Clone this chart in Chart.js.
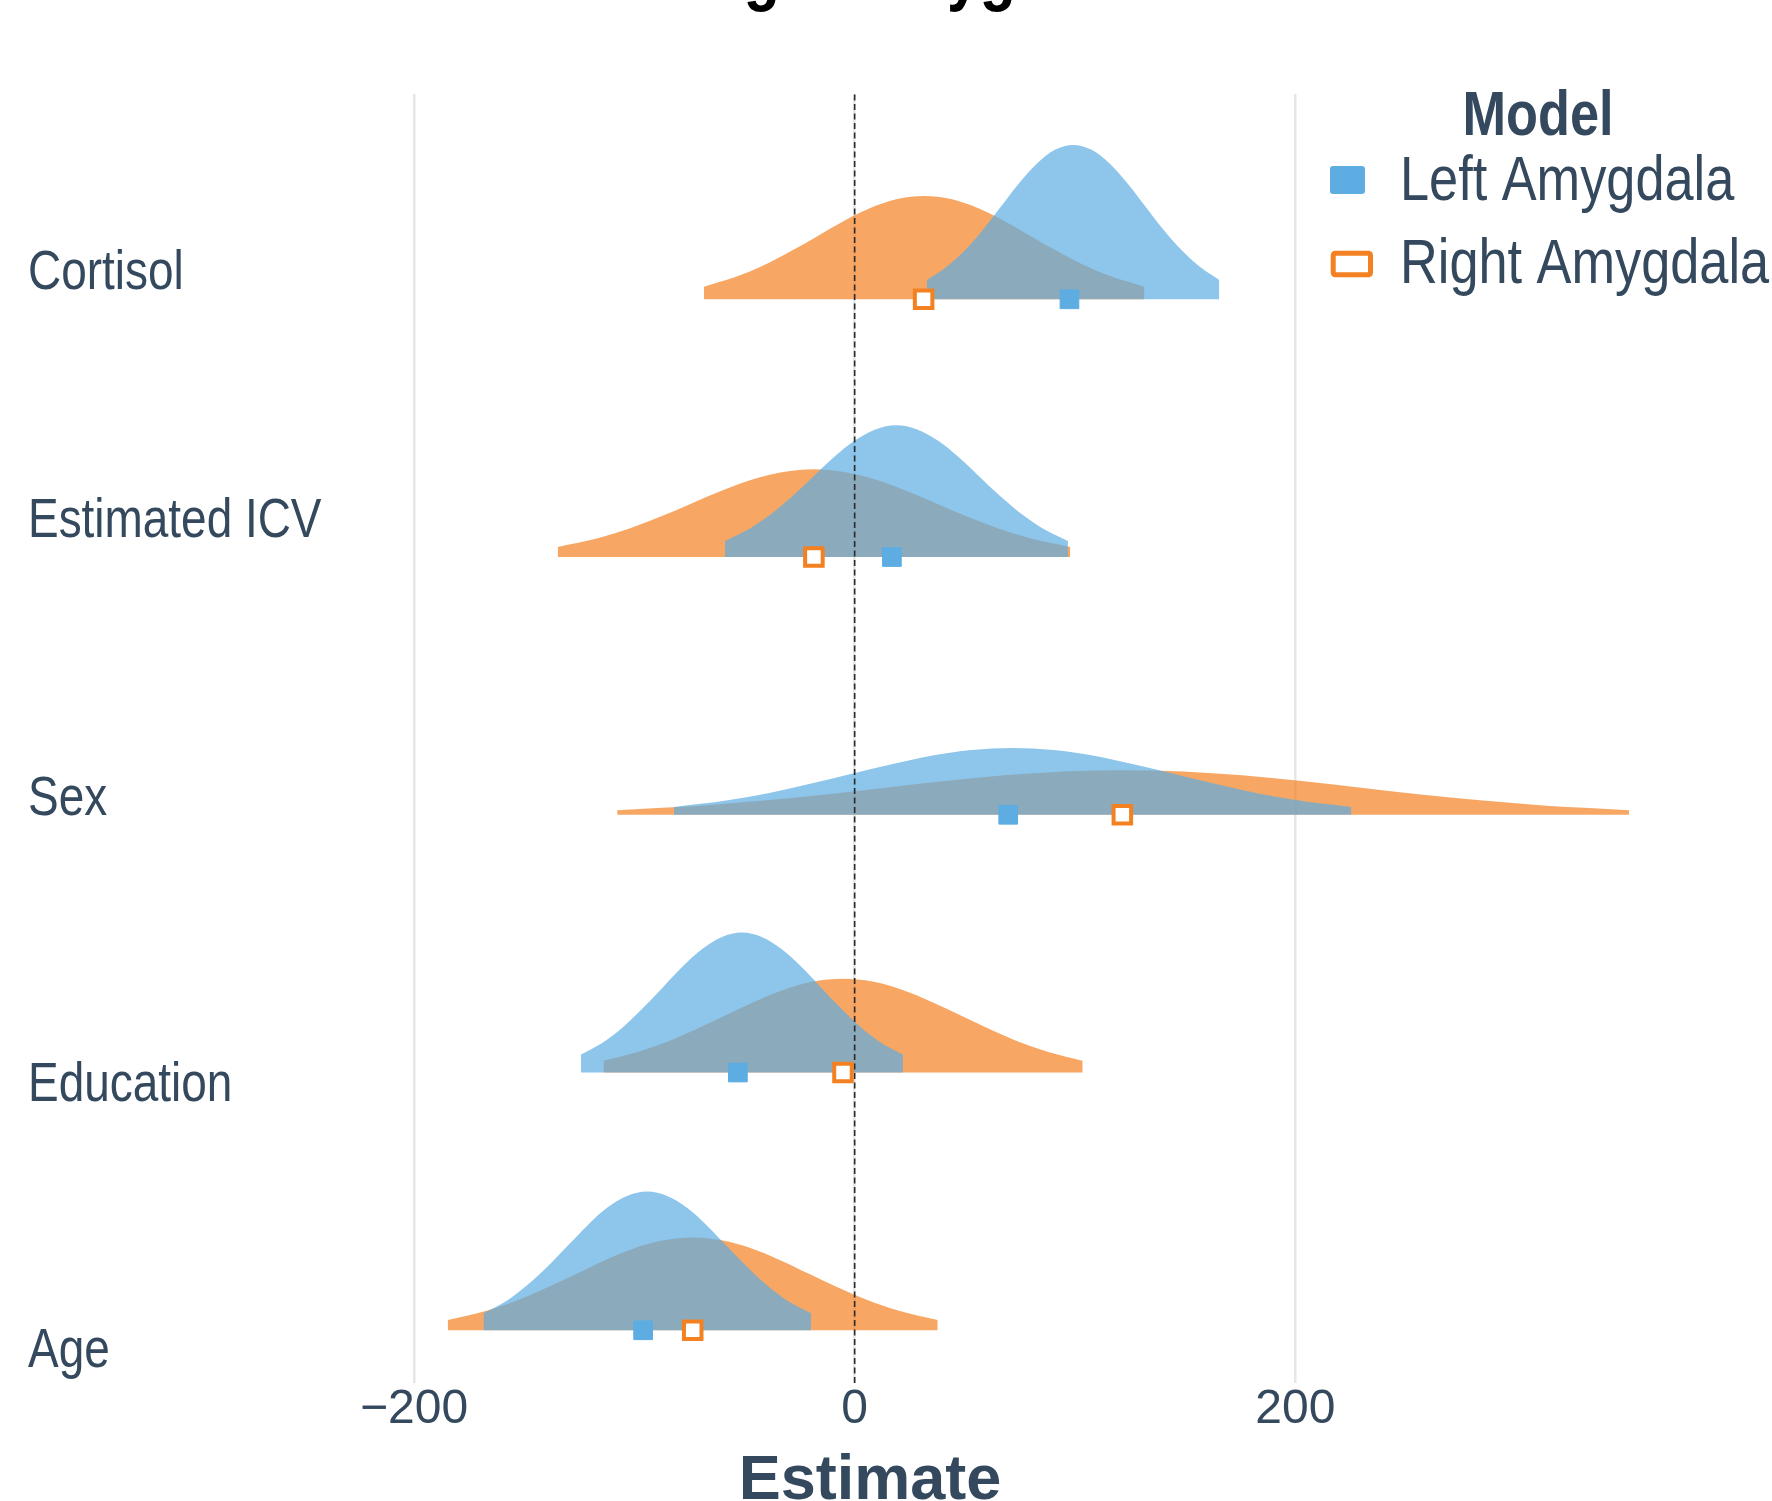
<!DOCTYPE html>
<html>
<head>
<meta charset="utf-8">
<script src="https://cdn.jsdelivr.net/npm/chart.js@4.4.1/dist/chart.umd.min.js"></script>
<style>
  html, body { margin: 0; padding: 0; background: #ffffff; }
  #wrap { width: 1772px; height: 1501px; position: relative; }
</style>
</head>
<body>
<div id="wrap"><canvas id="c" width="1772" height="1501"></canvas></div>
<script>
// Predictors, bottom row first (row index = ridge baseline on the y axis)
const categories = ['Age', 'Education', 'Sex', 'Estimated ICV', 'Cortisol'];
const models = ['Left Amygdala', 'Right Amygdala'];
const xTicks = [-200, 0, 200];

// Point estimates per predictor
const leftEstimate  = [-96.0, -53.0, 69.7, 16.9, 97.5];
const rightEstimate = [-73.5, -5.3, 121.5, -18.5, 31.3];

// Posterior density outlines: estimate values along each ridge ...
const leftDensityX = [
  [-168.5, -157.7, -148.7, -139.6, -130.5, -121.4, -112.4, -103.3, -94.2, -85.1, -76.1, -67.0, -57.9, -48.8, -39.8, -30.7, -19.8],
  [-124.2, -114.2, -105.2, -96.2, -87.2, -78.2, -69.2, -60.2, -51.2, -42.2, -33.2, -24.2, -15.2, -6.2, 2.8, 11.8, 21.9],
  [-82.0, -57.6, -39.2, -20.7, -2.2, 16.3, 34.8, 53.2, 71.7, 90.2, 108.7, 127.1, 145.6, 164.1, 182.6, 201.0, 225.4],
  [-58.9, -47.6, -38.1, -28.6, -19.1, -9.6, -0.1, 9.4, 18.9, 28.4, 37.9, 47.4, 56.9, 66.4, 75.9, 85.4, 96.8],
  [32.8, 42.3, 50.5, 58.6, 66.7, 74.8, 83.0, 91.1, 99.2, 107.3, 115.5, 123.6, 131.7, 139.8, 148.0, 156.1, 165.5]
];
const rightDensityX = [
  [-184.7, -166.3, -153.0, -139.8, -126.5, -113.3, -100.0, -86.8, -73.5, -60.3, -47.0, -33.8, -20.5, -7.3, 6.0, 19.3, 37.7],
  [-114.0, -98.9, -85.6, -72.2, -58.8, -45.4, -32.1, -18.7, -5.3, 8.1, 21.5, 34.8, 48.2, 61.6, 75.0, 88.3, 103.5],
  [-107.8, -67.1, -40.1, -13.1, 13.9, 40.9, 67.9, 94.9, 121.9, 148.9, 175.9, 202.9, 229.9, 256.9, 283.9, 310.9, 351.5],
  [-134.8, -116.2, -102.2, -88.3, -74.3, -60.4, -46.4, -32.5, -18.5, -4.6, 9.4, 23.4, 37.3, 51.3, 65.2, 79.2, 97.9],
  [-68.4, -53.9, -41.7, -29.5, -17.3, -5.1, 7.1, 19.3, 31.5, 43.7, 55.9, 68.1, 80.3, 92.5, 104.7, 116.9, 131.5]
];
// ... and the ridge height there (share of one row)
const leftDensityH = [
  [0.066, 0.116, 0.175, 0.246, 0.326, 0.406, 0.475, 0.521, 0.538, 0.521, 0.475, 0.406, 0.326, 0.246, 0.175, 0.116, 0.066],
  [0.070, 0.117, 0.176, 0.249, 0.329, 0.410, 0.479, 0.526, 0.543, 0.526, 0.479, 0.410, 0.329, 0.249, 0.176, 0.117, 0.070],
  [0.030, 0.056, 0.084, 0.119, 0.157, 0.195, 0.229, 0.251, 0.259, 0.251, 0.229, 0.195, 0.157, 0.119, 0.084, 0.056, 0.030],
  [0.062, 0.111, 0.166, 0.234, 0.310, 0.386, 0.451, 0.495, 0.511, 0.495, 0.451, 0.386, 0.310, 0.234, 0.166, 0.111, 0.062],
  [0.075, 0.130, 0.194, 0.274, 0.363, 0.452, 0.529, 0.581, 0.599, 0.581, 0.529, 0.452, 0.363, 0.274, 0.194, 0.130, 0.075]
];
const rightDensityH = [
  [0.040, 0.078, 0.117, 0.165, 0.218, 0.272, 0.318, 0.349, 0.360, 0.349, 0.318, 0.272, 0.218, 0.165, 0.117, 0.078, 0.040],
  [0.046, 0.079, 0.118, 0.167, 0.221, 0.275, 0.321, 0.353, 0.364, 0.353, 0.321, 0.275, 0.221, 0.167, 0.118, 0.079, 0.046],
  [0.018, 0.037, 0.056, 0.079, 0.105, 0.131, 0.153, 0.168, 0.173, 0.168, 0.153, 0.131, 0.105, 0.079, 0.056, 0.037, 0.018],
  [0.039, 0.074, 0.111, 0.156, 0.207, 0.257, 0.301, 0.330, 0.341, 0.330, 0.301, 0.257, 0.207, 0.156, 0.111, 0.074, 0.039],
  [0.049, 0.087, 0.130, 0.184, 0.243, 0.303, 0.354, 0.389, 0.401, 0.389, 0.354, 0.303, 0.243, 0.184, 0.130, 0.087, 0.049]
];

// ---- styling ----
const TITLE = 'Left vs Right Amygdala';
const TEXT = '#34495E';
const BLUE = '#5DADE2';
const BLUE_FILL = 'rgba(93,173,226,0.7)';
const ORANGE = '#F38121';
const ORANGE_FILL = 'rgba(243,129,33,0.7)';
const SANS = '"Liberation Sans", Arial, sans-serif';
const NARROW = 0.82;   // horizontal squeeze for the condensed text

// axis window and where the row names sit
const X_MIN = -233.6, X_MAX = 361.0;
const Y_MIN = -0.2045, Y_MAX = 4.7965;
const rowLabelAt = [-0.081, 0.950, 2.058, 3.137, 4.098];

function ridge(xs, hs, row, color, order, label) {
  return {
    type: 'line',
    label: label,
    data: xs.map((x, k) => ({ x: x, y: row + hs[k] })),
    fill: { value: row },
    backgroundColor: color,
    borderColor: 'rgba(0,0,0,0)',
    borderWidth: 1,
    pointRadius: 0,
    pointHoverRadius: 0,
    cubicInterpolationMode: 'monotone',
    order: order,
    clip: false
  };
}

const datasets = [];
categories.forEach((cat, i) => {
  datasets.push(ridge(rightDensityX[i], rightDensityH[i], i, ORANGE_FILL, 3, models[1] + ' – ' + cat));
  datasets.push(ridge(leftDensityX[i], leftDensityH[i], i, BLUE_FILL, 2, models[0] + ' – ' + cat));
});
// reference line at zero
datasets.push({
  type: 'line', label: 'zero',
  data: [{ x: 0, y: Y_MIN }, { x: 0, y: Y_MAX }],
  borderColor: '#2b2b2b', borderWidth: 1.6, borderDash: [6, 3.5],
  pointRadius: 0, fill: false, order: 1
});
// point estimates
datasets.push({
  type: 'line', label: models[0],
  data: leftEstimate.map((x, i) => ({ x: x, y: i })),
  showLine: false, pointStyle: 'rect', pointRadius: 13.2,
  backgroundColor: BLUE, borderColor: BLUE, borderWidth: 1, order: 0
});
datasets.push({
  type: 'line', label: models[1],
  data: rightEstimate.map((x, i) => ({ x: x, y: i })),
  showLine: false, pointStyle: 'rect', pointRadius: 12.4,
  backgroundColor: '#ffffff', borderColor: ORANGE, borderWidth: 4, order: 0
});

function condensedText(ctx, text, x, y, align, squeeze) {
  ctx.save();
  ctx.translate(x, y);
  ctx.scale(squeeze || NARROW, 1);
  ctx.textAlign = align;
  ctx.fillText(text, 0, 0);
  ctx.restore();
}

// row names on the y axis are set in a condensed cut
const condensedRowLabels = {
  id: 'condensedRowLabels',
  beforeDraw(chart) {
    const y = chart.scales.y;
    if (y._narrowLabels) return;
    y._narrowLabels = true;
    const drawLabels = y.drawLabels;
    y._computeLabelArea = function () { return undefined; };
    y.drawLabels = function (area) {
      const ctx = this.ctx;
      ctx.save();
      ctx.translate(this.left, 0);
      ctx.scale(NARROW, 1);
      ctx.translate(-this.left, 0);
      drawLabels.call(this, area);
      ctx.restore();
    };
  }
};

// title, x-axis caption and the "Model" legend
const overlay = {
  id: 'overlay',
  afterDraw(chart) {
    const ctx = chart.ctx;
    ctx.save();
    ctx.textBaseline = 'alphabetic';

    ctx.fillStyle = '#000000';
    ctx.font = 'bold 72px ' + SANS;
    condensedText(ctx, TITLE, 806, -3, 'center');

    ctx.fillStyle = TEXT;
    ctx.textAlign = 'center';
    ctx.font = 'bold 63px ' + SANS;
    ctx.fillText('Estimate', 870, 1499);

    ctx.font = 'bold 63px ' + SANS;
    condensedText(ctx, 'Model', 1538, 135, 'center', 0.83);

    ctx.font = '63px ' + SANS;
    condensedText(ctx, models[0], 1400, 200, 'left', 0.83);
    condensedText(ctx, models[1], 1400, 283, 'left', 0.83);

    // legend swatches
    ctx.fillStyle = BLUE;
    ctx.beginPath();
    ctx.roundRect(1330, 166, 35, 28, 3);
    ctx.fill();

    ctx.fillStyle = '#ffffff';
    ctx.strokeStyle = ORANGE;
    ctx.lineWidth = 5;
    ctx.beginPath();
    ctx.roundRect(1333.2, 253.2, 37.3, 21.6, 2);
    ctx.fill();
    ctx.stroke();
    ctx.restore();
  }
};

new Chart(document.getElementById('c'), {
  type: 'line',
  data: { datasets: datasets },
  options: {
    responsive: false,
    animation: false,
    devicePixelRatio: 1,
    layout: { padding: { left: 28, top: 94, right: 122, bottom: 0 } },
    plugins: {
      legend: { display: false },
      tooltip: { enabled: false },
      title: { display: false }
    },
    scales: {
      x: {
        type: 'linear', min: X_MIN, max: X_MAX,
        afterBuildTicks: ax => { ax.ticks = xTicks.map(v => ({ value: v })); },
        afterFit: ax => { ax.height = 118; },
        grid: { color: '#E6E6E6', lineWidth: 2.5, drawTicks: false },
        border: { display: false },
        ticks: {
          padding: 0, color: TEXT, autoSkip: false, maxRotation: 0,
          font: { family: SANS, size: 48, lineHeight: 1.1 },
          callback: v => (v < 0 ? '\u2212' : '') + Math.abs(v)
        }
      },
      y: {
        type: 'linear', min: Y_MIN, max: Y_MAX,
        afterBuildTicks: ax => { ax.ticks = rowLabelAt.map(v => ({ value: v })); },
        afterFit: ax => { ax.width = 312; },
        grid: { display: false },
        border: { display: false },
        ticks: {
          crossAlign: 'far', color: TEXT, autoSkip: false,
          font: { family: SANS, size: 56 },
          callback: (v, i) => categories[i]
        }
      }
    }
  },
  plugins: [condensedRowLabels, overlay]
});
</script>
</body>
</html>
